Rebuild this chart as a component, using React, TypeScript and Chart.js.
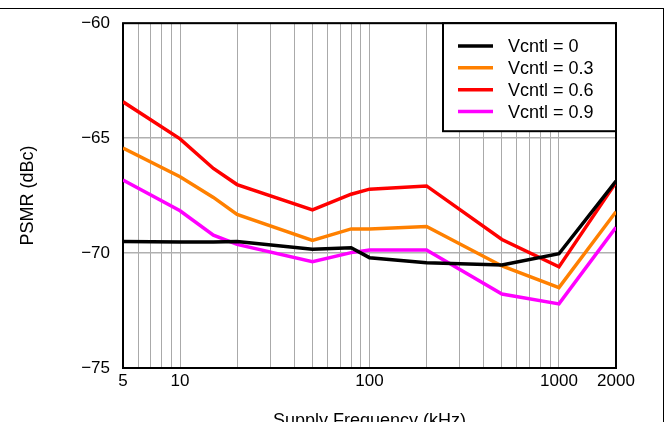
import React, { useEffect, useRef } from 'react';
import { Chart, registerables } from 'chart.js';

Chart.register(...registerables);

const frequencies = [5, 10, 15, 20, 50, 80, 100, 200, 500, 1000, 2000];
const vcntl0 = [-69.5, -69.52, -69.52, -69.5, -69.83, -69.77, -70.2, -70.42, -70.52, -70.03, -66.87];
const vcntl03 = [-65.43, -66.68, -67.58, -68.32, -69.45, -68.95, -68.95, -68.84, -70.56, -71.5, -68.2];
const vcntl06 = [-63.42, -65.03, -66.32, -67.02, -68.12, -67.44, -67.22, -67.08, -69.41, -70.6, -66.93];
const vcntl09 = [-66.82, -68.16, -69.22, -69.62, -70.38, -69.98, -69.87, -69.87, -71.78, -72.21, -68.88];

const seriesLabels = ['Vcntl = 0', 'Vcntl = 0.3', 'Vcntl = 0.6', 'Vcntl = 0.9'];
const seriesColors = ['#000000', '#ff8000', '#ff0000', '#ff00ff'];

const xGridValues = [5, 6, 7, 8, 9, 10, 20, 30, 40, 50, 60, 70, 80, 90, 100, 200, 300, 400, 500, 600, 700, 800, 900, 1000, 2000];
const xTickLabels = [5, 10, 100, 1000, 2000];
const yTickValues = [-75, -70, -65, -60];

const xTitle = 'Supply Frequency (kHz)';
const yTitle = 'PSMR (dBc)';

const FONT = '"Liberation Sans", Arial, sans-serif';

export default function App() {
  const ref = useRef<HTMLCanvasElement>(null);

  useEffect(() => {
    const canvas = ref.current;
    if (!canvas) return;

    const boxPlugin = {
      id: 'boxAndLegend',
      beforeDatasetsDraw(chart: any) {
        const { ctx, chartArea: a } = chart;
        ctx.save();
        ctx.strokeStyle = '#000';
        ctx.lineWidth = 2;
        ctx.strokeRect(a.left, a.top, a.right - a.left, a.bottom - a.top);
        ctx.restore();
      },
      afterDatasetsDraw(chart: any) {
        const { ctx, chartArea: a } = chart;
        const w = 173;
        const h = 108;
        const x0 = a.right - w;
        const y0 = a.top;
        ctx.save();
        ctx.fillStyle = '#fff';
        ctx.fillRect(x0, y0, w, h);
        ctx.strokeStyle = '#000';
        ctx.lineWidth = 2;
        ctx.strokeRect(x0, y0, w, h);
        ctx.font = '18px ' + FONT;
        ctx.textBaseline = 'middle';
        ctx.textAlign = 'left';
        chart.data.datasets.forEach((ds: any, i: number) => {
          const y = y0 + 22.7 + i * 21.9;
          ctx.strokeStyle = ds.borderColor;
          ctx.lineWidth = 3.5;
          ctx.lineCap = 'butt';
          ctx.beginPath();
          ctx.moveTo(x0 + 15, y);
          ctx.lineTo(x0 + 50, y);
          ctx.stroke();
          ctx.fillStyle = '#000';
          ctx.fillText(ds.label, x0 + 65, y + 1);
        });
        ctx.restore();
      },
    };

    const seriesValues = [vcntl0, vcntl03, vcntl06, vcntl09];

    const chart = new Chart(canvas, {
      type: 'line',
      data: {
        datasets: seriesValues.map((vals, i) => ({
          label: seriesLabels[i],
          data: frequencies.map((f, j) => ({ x: f, y: vals[j] })),
          borderColor: seriesColors[i],
          backgroundColor: seriesColors[i],
          borderWidth: 3.5,
          pointRadius: 0,
          tension: 0,
          fill: false,
        })),
      },
      options: {
        responsive: false,
        animation: false,
        devicePixelRatio: 1,
        layout: { padding: { top: 20, right: 52, bottom: 0, left: 0 } },
        plugins: {
          legend: { display: false },
          tooltip: { enabled: false },
        },
        scales: {
          x: {
            type: 'logarithmic',
            min: 5,
            max: 2000,
            afterBuildTicks: (scale: any) => {
              scale.ticks = xGridValues.map((v) => ({ value: v }));
            },
            afterFit: (scale: any) => {
              scale.height = 72;
            },
            ticks: {
              autoSkip: false,
              maxRotation: 0,
              minRotation: 0,
              padding: 3,
              color: '#000',
              font: { family: FONT, size: 17 },
              callback: (value: any) => (xTickLabels.includes(Number(value)) ? String(value) : ''),
            },
            grid: {
              color: '#aaaaaa',
              lineWidth: 1,
              drawTicks: false,
            },
            border: { display: false },
            title: {
              display: true,
              text: xTitle,
              color: '#000',
              font: { family: FONT, size: 18 },
              padding: { top: 0, bottom: 8 },
            },
          },
          y: {
            type: 'linear',
            min: -75,
            max: -60,
            afterBuildTicks: (scale: any) => {
              scale.ticks = yTickValues.map((v) => ({ value: v }));
            },
            afterFit: (scale: any) => {
              scale.width = 123;
            },
            ticks: {
              padding: 13,
              color: '#000',
              font: { family: FONT, size: 17 },
              callback: (value: any) => String(value).replace('-', '\u2212'),
            },
            grid: {
              color: '#b0b0b0',
              lineWidth: 1.5,
              drawTicks: false,
            },
            border: { display: false },
            title: {
              display: true,
              text: yTitle,
              color: '#000',
              font: { family: FONT, size: 18 },
              padding: { top: 17, bottom: 0 },
            },
          },
        },
      },
      plugins: [boxPlugin],
    } as any);

    return () => {
      chart.destroy();
    };
  }, []);

  return (
    <div style={{ position: 'fixed', left: 0, top: 0, width: 668, height: 422, overflow: 'hidden', background: '#fff' }}>
      <canvas ref={ref} width={668} height={440} style={{ display: 'block', width: 668, height: 440 }} />
      <div
        style={{
          position: 'absolute',
          left: 0,
          top: 8,
          width: 663,
          height: 500,
          borderTop: '1px solid #000',
          borderRight: '1px solid #000',
          pointerEvents: 'none',
        }}
      />
    </div>
  );
}
